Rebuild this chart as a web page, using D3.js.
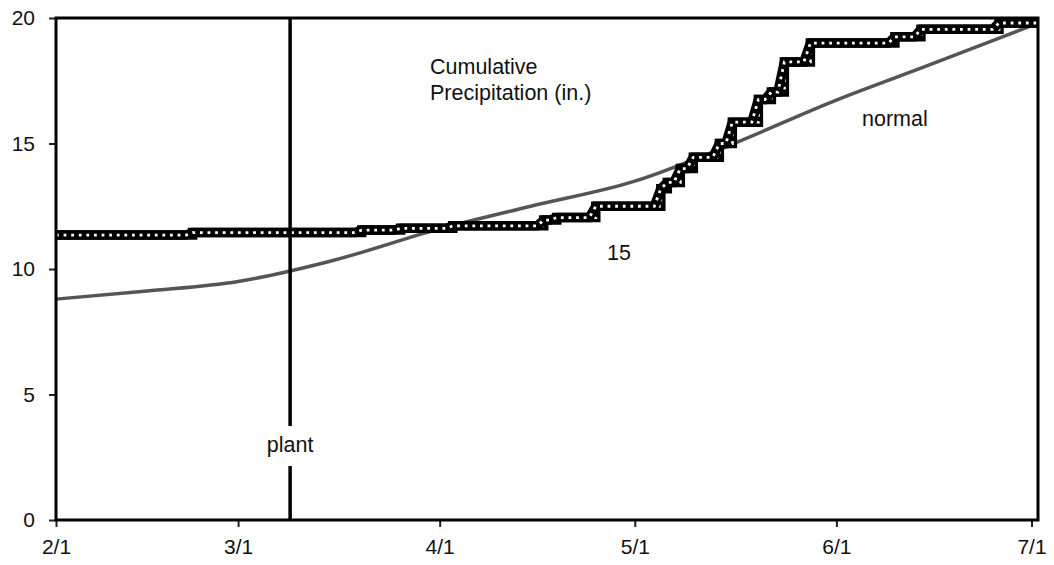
<!DOCTYPE html>
<html lang="en">
<head>
<meta charset="UTF-8">
<title>cumulative precipitation</title>
<script src="https://cdn.jsdelivr.net/npm/d3@7"></script>
<style>
  body { margin: 0; background: #fff; }
  #chart { width: 1054px; height: 565px; }
  text { font-family: "Liberation Sans", Arial, sans-serif; fill: #111; }
</style>
</head>
<body>
<div id="chart"></div>
<script>
  // cumulative rain (in.) since 2/1, value holds from that date on
  let rainDates = ["2/1", "2/22", "3/20", "3/26", "4/3", "4/17", "4/19", "4/25", "5/5", "5/6", "5/8",
                   "5/10", "5/14", "5/16", "5/20", "5/22", "5/24", "5/28", "6/10", "6/14", "6/26", "7/2"];
  let rainTotals = [11.35, 11.45, 11.55, 11.62, 11.72, 11.95, 12.05, 12.5, 13.2, 13.45, 14.0,
                    14.45, 15.0, 15.85, 16.75, 17.05, 18.25, 19.0, 19.25, 19.55, 19.8, 19.8];
  // normal cumulative precipitation
  let normalDates = ["2/1", "2/15", "3/1", "3/15", "4/1", "4/15", "5/1", "5/15", "6/1", "6/15", "7/1", "7/2"];
  let normalTotals = [8.8, 9.12, 9.5, 10.3, 11.6, 12.5, 13.5, 14.87, 16.73, 18.1, 19.7, 19.8];
  let xTicks = ["2/1", "3/1", "4/1", "5/1", "6/1", "7/1"];
  let yTicks = [0, 5, 10, 15, 20];
  let plantDate = "3/9";

  let parse = s => d3.timeParse("%m/%d/%Y")(s + "/2009");

  let draw = () => {
    let svg = d3.select("#chart").append("svg")
      .attr("class", "chart")
      .attr("width", 1054)
      .attr("height", 565);

    let padding = { top: 18, left: 56, bottom: 45, right: 16 };
    let width = +svg.attr("width") - padding.left - padding.right;
    let height = +svg.attr("height") - padding.top - padding.bottom;

    let focus = svg.append("g")
      .attr("transform", "translate(" + padding.left + "," + padding.top + ")");

    let x = d3.scaleTime()
      .domain([parse("2/1"), parse("7/2")])
      .range([0, width]);
    let y = d3.scaleLinear()
      .domain([0, 20])
      .range([height, 0]);

    /*axes*/
    let xAxis = d3.axisBottom(x)
      .tickValues(xTicks.map(parse))
      .tickFormat(d3.timeFormat("%-m/%-d"))
      .tickSize(7)
      .tickPadding(12);
    let yAxis = d3.axisLeft(y)
      .tickValues(yTicks)
      .tickSize(7)
      .tickPadding(14);

    let gx = focus.append("g")
      .attr("transform", "translate(0," + height + ")")
      .call(xAxis);
    let gy = focus.append("g").call(yAxis);
    [gx, gy].forEach(g => {
      g.select(".domain").remove();
      g.selectAll("line").attr("stroke", "#222").attr("stroke-width", 2);
      g.selectAll("text").style("font-size", "21px").attr("fill", "#111");
    });

    /*normal line*/
    let normal = normalDates.map((d, i) => ({ date: parse(d), v: normalTotals[i] }));
    focus.append("path")
      .datum(normal)
      .attr("fill", "none")
      .attr("stroke", "#555")
      .attr("stroke-width", 3.5)
      .attr("d", d3.line().x(d => x(d.date)).y(d => y(d.v)).curve(d3.curveMonotoneX));

    /*cumulative rain line: linear rise over the rain day plus a stepped copy*/
    let pts = [];
    rainDates.forEach((d, i) => {
      let dt = parse(d);
      if (i > 0) pts.push({ date: d3.timeDay.offset(dt, -1), v: rainTotals[i - 1] });
      pts.push({ date: dt, v: rainTotals[i] });
    });
    let steps = rainDates.map((d, i) => ({ date: parse(d), v: rainTotals[i] }));

    let lin = d3.line().x(d => x(d.date)).y(d => y(d.v));
    let stp = d3.line().x(d => x(d.date)).y(d => y(d.v)).curve(d3.curveStepAfter);

    [[steps, stp], [pts, lin]].forEach(([data, gen]) => {
      focus.append("path").datum(data)
        .attr("fill", "none").attr("stroke", "#000")
        .attr("stroke-width", 9.5).attr("d", gen);
      focus.append("path").datum(data)
        .attr("fill", "none").attr("stroke", "#fff")
        .attr("stroke-width", 2.8).attr("stroke-dasharray", "2.8,4.8")
        .attr("d", gen);
    });

    /*plant line with a gap for its label*/
    let px = x(parse(plantDate));
    focus.append("line")
      .attr("x1", px).attr("x2", px).attr("y1", 0).attr("y2", 408)
      .attr("stroke", "#000").attr("stroke-width", 3.5);
    focus.append("line")
      .attr("x1", px).attr("x2", px).attr("y1", 448).attr("y2", height)
      .attr("stroke", "#000").attr("stroke-width", 3.5);

    /*frame*/
    focus.append("rect")
      .attr("width", width).attr("height", height)
      .attr("fill", "none").attr("stroke", "#000").attr("stroke-width", 3);

    /*labels*/
    let label = (tx, ty, s, anchor) => focus.append("text")
      .attr("x", tx).attr("y", ty)
      .attr("text-anchor", anchor || "start")
      .style("font-size", "21.5px")
      .text(s);
    label(374, 56, "Cumulative");
    label(374, 82, "Precipitation (in.)");
    label(806, 108, "normal");
    label(551, 242, "15");
    label(px, 434, "plant", "middle");
  };
  draw();
</script>
</body>
</html>
